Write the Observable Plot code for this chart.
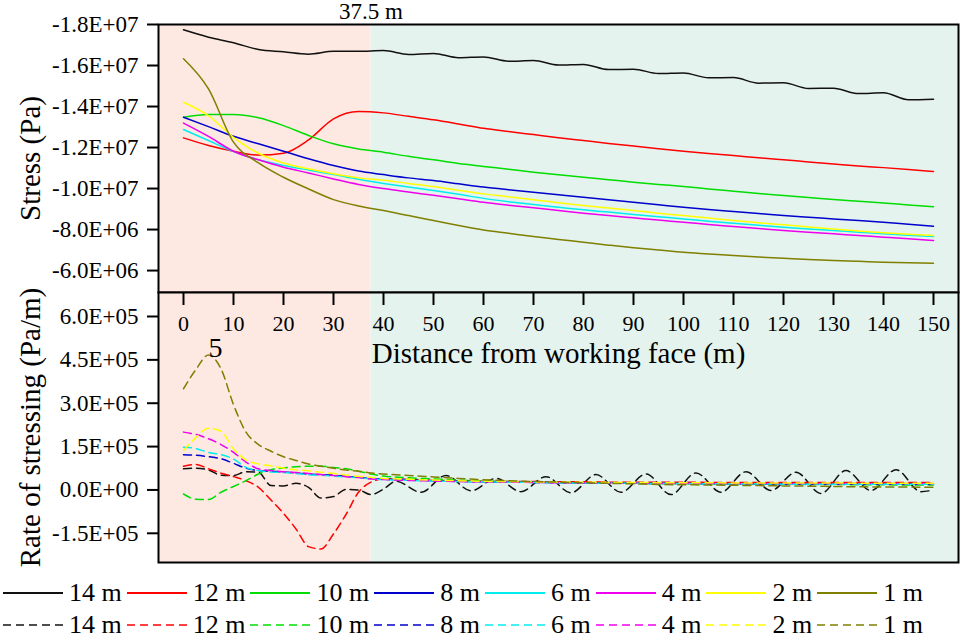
<!DOCTYPE html>
<html><head><meta charset="utf-8">
<script src="https://cdn.jsdelivr.net/npm/d3@7"></script>
<script src="https://cdn.jsdelivr.net/npm/@observablehq/plot@0.6"></script>
<style>
html,body{margin:0;padding:0;background:#fff;}
#fig{position:relative;width:962px;height:638px;font-family:"Liberation Serif","Times New Roman",Tinos,"DejaVu Serif","Noto Serif",serif;color:#000;}
#top,#bottom{position:absolute;left:0;}
#top{top:0}
#bottom{top:290px}
#legend{position:absolute;left:3px;top:577px;width:959px;}
.row{display:flex;align-items:center;height:32px;}
.item{display:flex;align-items:center;margin-right:5px}
.item svg{display:block;margin-right:6px}
.item span{font-size:26px;line-height:26px;white-space:nowrap}
svg text{font-family:"Liberation Serif","Times New Roman",Tinos,"DejaVu Serif","Noto Serif",serif;}
</style></head><body>
<div id="fig"><div id="top"></div><div id="bottom"></div><div id="legend"></div></div>
<script>
// ---------- data ----------
const seriesNames = ["14 m", "12 m", "10 m", "8 m", "6 m", "4 m", "2 m", "1 m"];
const seriesColors = ["#111111", "#ff0000", "#00dd00", "#0000cc", "#00eeee", "#ee00ee", "#ffff00", "#7f7f00"];

const zoneEdges = [-5, 37.5, 155];
const zoneFills = ["#fde9e1", "#e5f3ee"];
const boundaryLabel = "37.5 m";
const peakLabel = "5";

// stress (×1e6 Pa) at distance 0..150 step 5
const STRESS_UNIT = 1e6;
const stressDistance = [0,5,10,15,20,25,30,35,40,45,50,55,60,65,70,75,80,85,90,95,100,105,110,115,120,125,130,135,140,145,150];
const stress14 = [-17.74,-17.38,-17.11,-16.78,-16.67,-16.55,-16.69,-16.69,-16.73,-16.54,-16.59,-16.38,-16.42,-16.21,-16.24,-16.02,-16.05,-15.80,-15.82,-15.61,-15.64,-15.40,-15.41,-15.14,-15.16,-14.88,-14.89,-14.63,-14.67,-14.33,-14.36];
const stress12 = [-12.47,-12.10,-11.82,-11.63,-11.72,-12.37,-13.40,-13.76,-13.69,-13.52,-13.35,-13.15,-12.94,-12.78,-12.63,-12.48,-12.34,-12.20,-12.07,-11.94,-11.82,-11.71,-11.61,-11.50,-11.40,-11.30,-11.20,-11.10,-11.02,-10.93,-10.83];
const stress10 = [-13.48,-13.61,-13.61,-13.45,-13.07,-12.59,-12.18,-11.93,-11.77,-11.57,-11.40,-11.22,-11.08,-10.94,-10.80,-10.67,-10.55,-10.43,-10.31,-10.20,-10.10,-9.98,-9.87,-9.76,-9.66,-9.56,-9.46,-9.38,-9.30,-9.20,-9.11];
const stress8 = [-13.48,-13.02,-12.55,-12.18,-11.82,-11.45,-11.12,-10.85,-10.68,-10.52,-10.39,-10.23,-10.07,-9.94,-9.82,-9.70,-9.58,-9.45,-9.33,-9.21,-9.09,-8.98,-8.88,-8.78,-8.68,-8.60,-8.52,-8.44,-8.36,-8.26,-8.16];
const stress6 = [-12.88,-12.34,-11.80,-11.40,-11.12,-10.90,-10.68,-10.45,-10.25,-10.07,-9.90,-9.72,-9.52,-9.36,-9.22,-9.09,-8.96,-8.85,-8.73,-8.62,-8.52,-8.41,-8.31,-8.21,-8.11,-8.03,-7.95,-7.87,-7.79,-7.72,-7.66];
const stress4 = [-13.19,-12.54,-11.82,-11.40,-11.04,-10.76,-10.47,-10.20,-10.00,-9.83,-9.67,-9.50,-9.33,-9.19,-9.06,-8.93,-8.80,-8.68,-8.57,-8.46,-8.36,-8.25,-8.15,-8.05,-7.95,-7.87,-7.79,-7.71,-7.63,-7.55,-7.46];
const stress2 = [-14.21,-13.55,-12.50,-11.72,-11.25,-10.96,-10.72,-10.52,-10.40,-10.25,-10.10,-9.92,-9.74,-9.60,-9.45,-9.31,-9.17,-9.05,-8.93,-8.80,-8.68,-8.56,-8.44,-8.33,-8.23,-8.13,-8.03,-7.93,-7.84,-7.77,-7.71];
const stress1 = [-16.33,-14.86,-12.26,-11.25,-10.55,-9.98,-9.46,-9.15,-8.93,-8.68,-8.44,-8.20,-7.98,-7.82,-7.66,-7.52,-7.38,-7.24,-7.11,-7.00,-6.89,-6.81,-6.73,-6.66,-6.60,-6.54,-6.49,-6.45,-6.41,-6.38,-6.36];

// rate of stressing (×1e5 Pa/m)
const RATE_UNIT = 1e5;
const rateDistance = [0,2.5,5,7.5,10,12.5,15,17.5,20,22.5,25,27.5,30,32.5,35,37.5,40,45,50,55,60,65,70,75,80,85,90,95,100,105,110,115,120,125,130,135,140,145,150];
const rate12 = [0.82,0.88,0.73,0.58,0.46,0.32,0.09,-0.35,-0.81,-1.35,-1.96,-2.04,-1.52,-0.85,-0.08,0.27,0.38,0.36,0.33,0.31,0.30,0.29,0.29,0.28,0.28,0.27,0.27,0.27,0.27,0.26,0.26,0.26,0.26,0.26,0.26,0.26,0.26,0.26,0.26];
const rate10 = [-0.14,-0.32,-0.33,-0.08,0.12,0.32,0.55,0.70,0.76,0.80,0.82,0.82,0.78,0.73,0.65,0.55,0.48,0.42,0.38,0.34,0.31,0.29,0.27,0.26,0.25,0.24,0.23,0.22,0.22,0.21,0.21,0.20,0.20,0.19,0.19,0.18,0.18,0.17,0.17];
const rate8 = [1.22,1.20,1.15,1.08,0.92,0.75,0.67,0.65,0.62,0.59,0.55,0.53,0.51,0.47,0.44,0.40,0.38,0.35,0.32,0.30,0.28,0.27,0.26,0.25,0.24,0.23,0.23,0.22,0.22,0.21,0.21,0.21,0.20,0.20,0.20,0.20,0.20,0.20,0.20];
const rate6 = [1.48,1.43,1.30,1.22,1.07,0.78,0.67,0.62,0.60,0.57,0.53,0.51,0.48,0.45,0.42,0.38,0.36,0.33,0.31,0.29,0.28,0.27,0.26,0.25,0.24,0.23,0.23,0.22,0.22,0.21,0.21,0.21,0.20,0.20,0.20,0.20,0.20,0.20,0.20];
const rate4 = [2.00,1.92,1.77,1.57,1.30,0.96,0.73,0.67,0.63,0.60,0.57,0.53,0.50,0.46,0.43,0.38,0.36,0.33,0.31,0.29,0.28,0.27,0.26,0.25,0.25,0.24,0.24,0.23,0.23,0.23,0.22,0.22,0.22,0.22,0.22,0.22,0.22,0.22,0.22];
const rate2 = [1.36,1.82,2.13,2.03,1.42,1.04,0.90,0.83,0.76,0.70,0.66,0.61,0.57,0.52,0.47,0.44,0.40,0.37,0.34,0.32,0.30,0.29,0.28,0.27,0.27,0.26,0.26,0.25,0.25,0.25,0.24,0.24,0.24,0.24,0.24,0.23,0.23,0.23,0.23];
const rate1 = [3.50,4.17,4.67,4.19,2.95,2.00,1.57,1.34,1.15,1.02,0.90,0.82,0.75,0.69,0.65,0.59,0.55,0.50,0.45,0.40,0.35,0.32,0.29,0.27,0.25,0.23,0.21,0.19,0.18,0.17,0.16,0.15,0.14,0.13,0.12,0.11,0.10,0.10,0.09];
// 14 m rate oscillates, so it has its own distances
const rate14Distance = [0,2.5,5,7.5,10,12.5,15,17.5,20,22.5,25,27.5,30,32.5,35,37.5,40,42.5,47.5,52.5,57.5,62.5,67.5,72.5,77.5,82.5,87.5,92.5,97.5,102.5,107.5,112.5,117.5,122.5,127.5,132.5,137.5,142.5,147.5,150];
const rate14 = [0.73,0.75,0.69,0.51,0.50,0.63,0.61,0.15,0.14,0.23,0.09,-0.28,-0.23,0.02,0.00,-0.16,0.03,0.30,-0.08,0.50,-0.03,0.40,-0.06,0.46,-0.10,0.53,-0.08,0.55,-0.16,0.59,-0.08,0.63,-0.02,0.61,-0.12,0.67,-0.02,0.70,-0.06,0.00];

// axes
const xTicks = [0,10,20,30,40,50,60,70,80,90,100,110,120,130,140,150];
const stressTicks = [-1.8e7,-1.6e7,-1.4e7,-1.2e7,-1.0e7,-8.0e6,-6.0e6];
const stressTickLabels = ["-1.8E+07","-1.6E+07","-1.4E+07","-1.2E+07","-1.0E+07","-8.0E+06","-6.0E+06"];
const rateTicks = [6.0e5,4.5e5,3.0e5,1.5e5,0,-1.5e5];
const rateTickLabels = ["6.0E+05","4.5E+05","3.0E+05","1.5E+05","0.0E+00","-1.5E+05"];
const stressTitle = "Stress (Pa)";
const rateTitle = "Rate of stressing (Pa/m)";
const xTitle = "Distance from working face (m)";

// ---------- build ----------
const stressSeries = [stress14, stress12, stress10, stress8, stress6, stress4, stress2, stress1];
const rateSeries = [rate14, rate12, rate10, rate8, rate6, rate4, rate2, rate1];
const rateDistances = [rate14Distance, rateDistance, rateDistance, rateDistance, rateDistance, rateDistance, rateDistance, rateDistance];

const FONT = "'Liberation Serif','Times New Roman',Tinos,'DejaVu Serif','Noto Serif',serif";
const X_DOMAIN = [zoneEdges[0], zoneEdges[2]];
const svgStyle = {fontFamily: FONT, fontSize: "23px", background: "transparent", color: "#000", overflow: "visible"};
const stressLabelMap = new Map(stressTicks.map((t, i) => [t, stressTickLabels[i]]));
const rateLabelMap = new Map(rateTicks.map((t, i) => [t, rateTickLabels[i]]));
const zones = [
  {x1: zoneEdges[0], x2: zoneEdges[1], fill: zoneFills[0]},
  {x1: zoneEdges[1], x2: zoneEdges[2], fill: zoneFills[1]}
];
const zoneMarks = zones.map(z => Plot.rect([z], {x1: "x1", x2: "x2", fill: z.fill}));

const stressMarks = stressSeries.map((arr, i) => Plot.line(
  stressDistance.map((d, j) => ({x: d, y: arr[j] * STRESS_UNIT})),
  {x: "x", y: "y", stroke: seriesColors[i], strokeWidth: 1.5, curve: "monotone-x"}));

const topPlot = Plot.plot({
  width: 962, height: 294, marginLeft: 158, marginRight: 4, marginTop: 24, marginBottom: 2,
  style: svgStyle,
  x: {domain: X_DOMAIN, axis: null},
  y: {domain: [-4.93e6, -1.8e7]},
  marks: [
    ...zoneMarks,
    ...stressMarks,
    Plot.frame({stroke: "#000", strokeWidth: 2}),
    Plot.axisY(stressTicks, {tickSize: 11, tickPadding: 9, tickFormat: d => stressLabelMap.get(d), fontSize: 23, fontFamily: FONT, strokeWidth: 2, label: null}),
    Plot.text([zoneEdges[1]], {x: d => d, frameAnchor: "top", text: () => boundaryLabel, textAnchor: "middle", lineAnchor: "bottom", dy: -6, fontSize: 23, fontFamily: FONT}),
    Plot.text([stressTitle], {frameAnchor: "left", text: d => d, textAnchor: "middle", rotate: -90, dx: -128, fontSize: 29, fontFamily: FONT})
  ]
});
document.getElementById("top").appendChild(topPlot);

const rateMarks = rateSeries.map((arr, i) => Plot.line(
  rateDistances[i].map((d, j) => ({x: d, y: arr[j] * RATE_UNIT})),
  {x: "x", y: "y", stroke: seriesColors[i], strokeWidth: 1.5, strokeDasharray: "8,5", curve: "monotone-x"}));

const olivePeakIndex = d3.maxIndex(rate1);
const olivePeak = {x: rateDistance[olivePeakIndex], y: rate1[olivePeakIndex] * RATE_UNIT};

const bottomPlot = Plot.plot({
  width: 962, height: 276, marginLeft: 158, marginRight: 4, marginTop: 2, marginBottom: 4,
  style: svgStyle,
  x: {domain: X_DOMAIN},
  y: {domain: [-2.51e5, 6.83e5]},
  marks: [
    ...zoneMarks,
    ...rateMarks,
    Plot.frame({stroke: "#000", strokeWidth: 2}),
    Plot.axisX(xTicks, {anchor: "top", tickSize: -12, tickPadding: -26, fontSize: 22, fontFamily: FONT, strokeWidth: 2, label: null}),
    Plot.axisY(rateTicks, {tickSize: 11, tickPadding: 9, tickFormat: d => rateLabelMap.get(d), fontSize: 23, fontFamily: FONT, strokeWidth: 2, label: null}),
    Plot.text([olivePeak], {x: "x", y: "y", text: () => peakLabel, dx: 7, dy: 2, lineAnchor: "bottom", fontSize: 28, fontFamily: FONT}),
    Plot.text([xTitle], {frameAnchor: "top", text: d => d, textAnchor: "middle", lineAnchor: "bottom", dy: 70, fontSize: 29, fontFamily: FONT}),
    Plot.text([rateTitle], {frameAnchor: "left", text: d => d, textAnchor: "middle", rotate: -90, dx: -128, fontSize: 29, fontFamily: FONT})
  ]
});
document.getElementById("bottom").appendChild(bottomPlot);

// ---------- legend ----------
const legend = d3.select("#legend");
[null, "8,5"].forEach(dash => {
  const row = legend.append("div").attr("class", "row");
  seriesNames.forEach((name, i) => {
    const item = row.append("div").attr("class", "item");
    const s = item.append("svg").attr("width", 60).attr("height", 10);
    s.append("line").attr("x1", 0).attr("x2", 60).attr("y1", 5).attr("y2", 5)
      .attr("stroke", seriesColors[i]).attr("stroke-width", 2)
      .attr("stroke-dasharray", dash)
      .attr("stroke-opacity", dash ? 0.75 : 1);
    item.append("span").text(name);
  });
});
</script>
</body></html>
